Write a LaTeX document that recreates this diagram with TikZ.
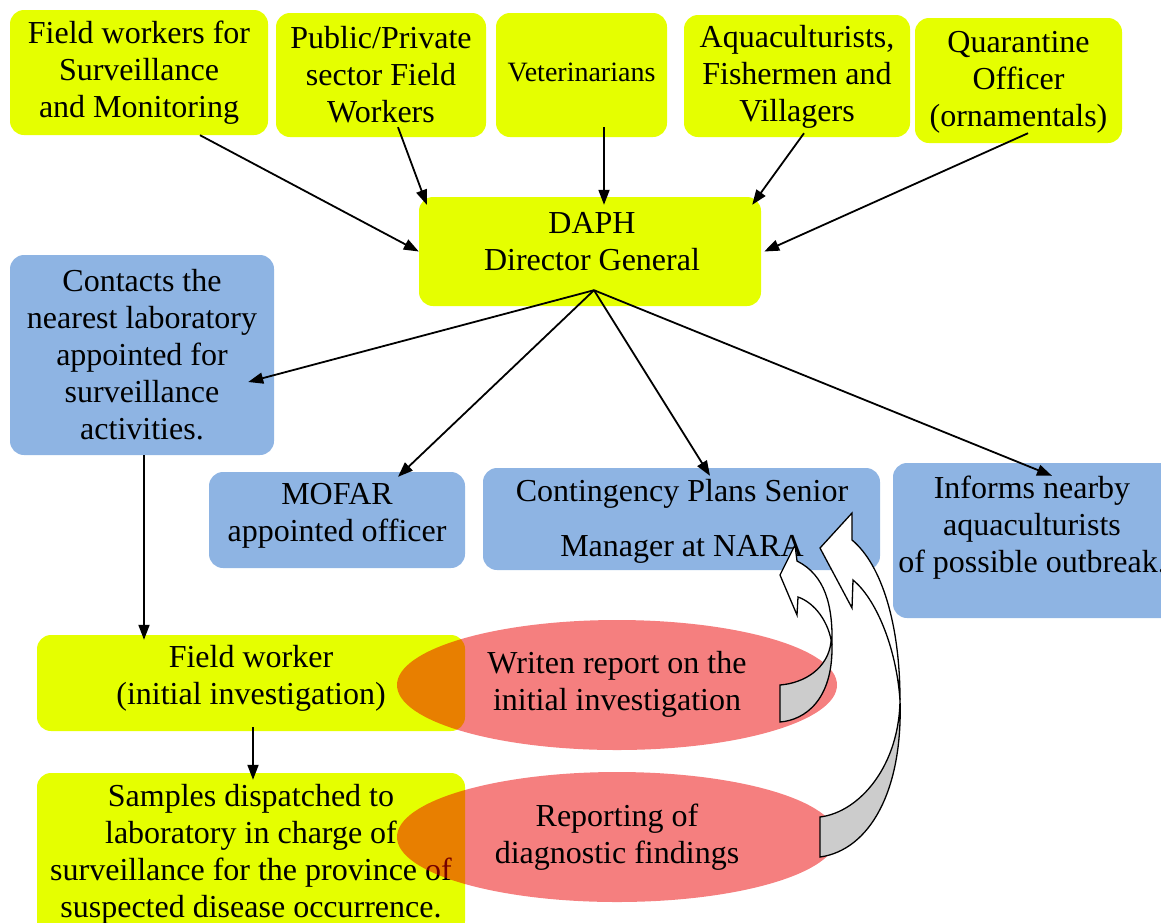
\documentclass[tikz,border=0pt]{standalone}
\usepackage{fontspec}
\setmainfont{Liberation Serif}
\usetikzlibrary{arrows.meta,calc,shapes.geometric}
\definecolor{yelc}{HTML}{E5FF00}
\definecolor{bluc}{HTML}{8EB4E3}
\definecolor{redc}{RGB}{235,0,0}
\definecolor{grayc}{HTML}{CCCCCC}
\tikzset{
  ybox/.style={fill=yelc,draw=none,rounded corners=14pt,inner sep=0pt},
  bbox/.style={fill=bluc,draw=none,rounded corners=14pt,inner sep=0pt},
  txt/.style={align=center,inner sep=0pt,font=\fontsize{32}{37}\selectfont},
  arr/.style={line width=1.8pt,-{Triangle[length=15pt,width=11pt]}},
  ell/.style={fill=redc,fill opacity=0.5,draw=none},
  band/.style={draw=black,line width=1.3pt,line join=miter}
}
\begin{document}
\begin{tikzpicture}[x=1pt,y=-1pt]
\useasboundingbox (0,0) rectangle (1161,922);
% top boxes
\node[ybox,minimum width=258pt,minimum height=125pt] (f1) at (139,72.5) {};
\node[ybox,minimum width=210pt,minimum height=124pt] (f2) at (381,75) {};
\node[ybox,minimum width=171pt,minimum height=124pt] (f3) at (581.5,75) {};
\node[ybox,minimum width=226pt,minimum height=122pt] (f4) at (797,76) {};
\node[ybox,minimum width=207pt,minimum height=125pt] (f5) at (1018.5,80.5) {};
\node[txt] (f1t) at (139,73) {Field workers for\\Surveillance\\and Monitoring};
\node[txt] (f2t) at (381,75) {Public/Private\\sector Field\\Workers};
\node[txt,font=\fontsize{28}{34}\selectfont] (f3t) at (581.5,72) {Veterinarians};
\node[txt] (f4t) at (797,77) {Aquaculturists,\\Fishermen and\\Villagers};
\node[txt] (f5t) at (1018.5,82) {Quarantine\\Officer\\(ornamentals)};
% DAPH
\node[ybox,minimum width=342pt,minimum height=109pt] (daph) at (590,251.5) {};
\node[txt] (dapht) at (592,242) {DAPH\\Director General};
\coordinate (hub) at ([xshift=4pt,yshift=16pt]daph.south);
% blue boxes
\node[bbox,minimum width=264pt,minimum height=200pt] (cont) at (142,355) {};
\node[txt] (contt) at (142,355) {Contacts the\\nearest laboratory\\appointed for\\surveillance\\activities.};
\node[bbox,minimum width=256pt,minimum height=96pt] (mofar) at (337,520) {};
\node[txt] (mofart) at (337,516) {MOFAR\\appointed officer};
\node[bbox,minimum width=397pt,minimum height=102pt] (cplan) at (681.5,519) {};
\node[txt] (cplant) at (682,521.5) {Contingency Plans Senior\\[18pt]Manager at NARA};
\node[bbox,minimum width=282pt,minimum height=155pt] (inf) at (1034,540.5) {};
\node[txt] (inft) at (1032,528) {Informs nearby\\aquaculturists\\of possible outbreak.};
% lower yellow boxes
\node[ybox,minimum width=428pt,minimum height=96pt] (fw) at (251,683) {};
\node[txt] (fwt) at (251,678) {Field worker\\(initial investigation)};
\node[ybox,minimum width=428pt,minimum height=162pt] (samp) at (251,854) {};
\node[txt] (sampt) at (251,854.5) {Samples dispatched to\\laboratory in charge of\\surveillance for the province of\\suspected disease occurrence.};
% ellipses
\node[ell,ellipse,minimum width=440pt,minimum height=130pt,inner sep=0pt] (e1) at (617,685) {};
\node[txt] (e1t) at (617,684) {Writen report on the\\initial investigation};
\node[ell,ellipse,minimum width=440pt,minimum height=130pt,inner sep=0pt] (e2) at (617,837) {};
\node[txt] (e2t) at (617,837) {Reporting of\\diagnostic findings};
% arrows
\draw[arr] ([xshift=61pt]f1.south) -- (daph.west);
\draw[arr] ([xshift=17pt,yshift=10pt]f2.south) -- ([xshift=8pt,yshift=-8pt]daph.north west);
\draw[arr] ([xshift=22.5pt,yshift=10pt]f3.south) -- ([xshift=14pt,yshift=-8pt]daph.north);
\draw[arr] ([xshift=7pt,yshift=4pt]f4.south) -- ([xshift=-9pt,yshift=-8pt]daph.north east);
\draw[arr] ([xshift=9.5pt,yshift=10pt]f5.south) -- ([xshift=3pt]daph.east);
\draw[arr] (hub) -- ([xshift=-26pt,yshift=-27pt]cont.east);
\draw[arr] (hub) -- ([xshift=61pt,yshift=-5pt]mofar.north);
\draw[arr] (hub) -- ([xshift=28.5pt,yshift=-8pt]cplan.north);
\draw[arr] (hub) -- ([xshift=18pt,yshift=-13pt]inf.north);
\draw[arr] ([xshift=2pt]cont.south) -- ([xshift=-107pt,yshift=-5pt]fw.north);
\draw[arr] ([xshift=2pt,yshift=4pt]fw.south) -- ([xshift=2pt,yshift=-7pt]samp.north);
% curved block arrows (small)
\draw[band,fill=grayc] (831,642) .. controls (828,668) and (805,683) .. (780,685) -- (780,722)
  .. controls (805,720) and (833,700) .. (832,645) -- cycle;
\draw[band,fill=white] (795,545) -- (797,561) .. controls (825,575) and (833,605) .. (832,645)
  .. controls (829,622) and (815,603) .. (798,597) -- (797,615) -- (780,575) -- cycle;
% curved block arrows (big)
\draw[band,fill=grayc] (900,698) .. controls (900,765) and (860,812) .. (820,817) -- (820,857)
  .. controls (870,850) and (903,790) .. (900,700) -- cycle;
\draw[band,fill=white] (852,513) -- (852,540) .. controls (882,565) and (900,625) .. (900,700)
  .. controls (896,645) and (875,598) .. (853,580) -- (852,608) -- (820,548) -- cycle;
\end{tikzpicture}
\end{document}
